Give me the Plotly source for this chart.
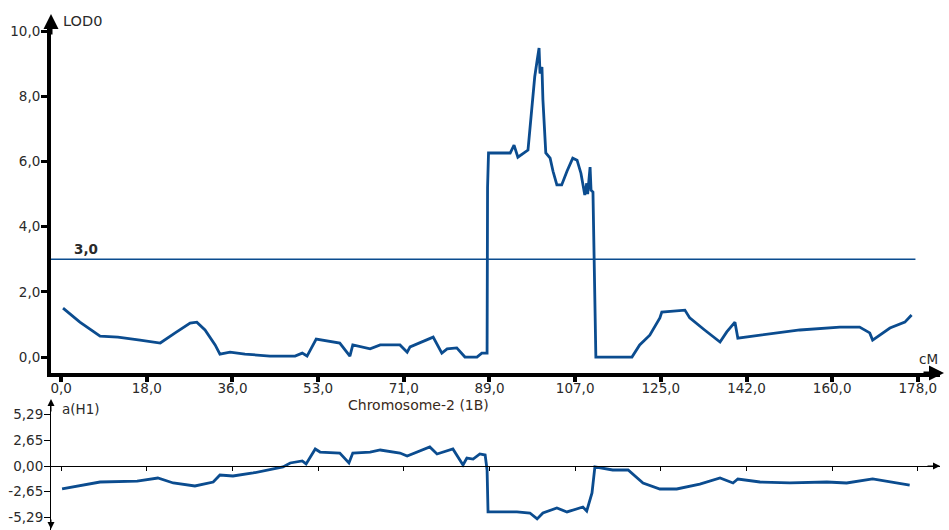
import plotly.graph_objects as go

# LOD profile along chromosome 2 (1B), positions in cM
lod_pos = [0.4, 3.9, 8.1, 11.8, 16.4, 20.6, 23.7, 26.8, 28.2, 29.9, 32.0, 33.0, 35.1,
           38.2, 43.4, 48.6, 50.1, 51.1, 53.0, 57.9, 60.0, 60.6, 64.2, 66.3, 70.4,
           71.9, 72.5, 77.3, 79.1, 80.2, 82.2, 83.9, 86.4, 87.4, 88.5, 88.6, 88.8,
           93.3, 94.1, 94.9, 97.0, 97.8, 98.4, 98.9, 99.3, 99.5, 99.9, 100.1, 100.7,
           101.6, 102.2, 103.0, 104.0, 105.1, 106.3, 107.2, 108.0, 108.8, 109.2,
           109.4, 109.9, 110.1, 110.5, 111.1, 118.6, 120.2, 122.3, 124.4, 124.8,
           129.6, 130.6, 133.7, 136.9, 138.3, 140.0, 140.6, 145.2, 153.5, 161.8,
           165.9, 168.0, 168.6, 172.2, 175.3, 176.7]
lod_val = [1.50, 1.07, 0.64, 0.61, 0.52, 0.43, 0.74, 1.04, 1.07, 0.83, 0.37, 0.09, 0.15,
           0.09, 0.03, 0.03, 0.12, 0.03, 0.55, 0.43, 0.03, 0.37, 0.25, 0.37, 0.37,
           0.15, 0.31, 0.61, 0.12, 0.25, 0.28, 0.00, 0.00, 0.12, 0.12, 5.20, 6.26,
           6.26, 6.50, 6.13, 6.35, 7.58, 8.60, 9.10, 9.48, 8.70, 8.90, 7.90, 6.26,
           6.10, 5.70, 5.28, 5.28, 5.70, 6.10, 6.04, 5.64, 4.97, 5.33,
           5.00, 5.83, 5.12, 5.06, 0.00, 0.00, 0.37, 0.67, 1.20, 1.38,
           1.44, 1.20, 0.83, 0.46, 0.77, 1.07, 0.58, 0.67, 0.83, 0.92,
           0.92, 0.74, 0.52, 0.89, 1.07, 1.29]

# additive effect a(H1)
eff_pos = [0.2, 8.1, 15.8, 20.1, 23.3, 27.8, 31.6, 33.0, 35.7, 39.9, 46.1, 47.6, 50.1,
           50.9, 52.8, 53.8, 57.9, 59.8, 60.6, 64.2, 66.3, 70.4, 71.9, 76.6, 78.1,
           81.4, 83.5, 84.3, 85.6, 87.0, 88.1, 88.5, 88.7, 94.7, 97.4, 98.9, 100.1,
           103.0, 105.1, 108.4, 109.2, 110.3, 110.9, 114.6, 117.8, 120.9, 124.4,
           127.9, 132.7, 136.9, 139.6, 140.6, 145.2, 151.4, 159.1, 163.2, 168.6,
           172.8, 176.3]
eff_val = [-2.37, -1.65, -1.55, -1.24, -1.75, -2.06, -1.65, -0.93, -1.03, -0.72, -0.10,
           0.31, 0.52, 0.21, 1.75, 1.44, 1.34, 0.31, 1.34, 1.44, 1.65, 1.34, 1.03,
           1.96, 1.24, 1.75, 0.10, 0.82, 0.72, 1.24, 1.13, -0.41, -4.74, -4.74, -4.85,
           -5.46, -4.85, -4.33, -4.74, -4.23, -4.64, -2.78, -0.10, -0.41, -0.41,
           -1.75, -2.37, -2.37, -1.86, -1.24, -1.75, -1.34, -1.65, -1.75, -1.65,
           -1.75, -1.34, -1.65, -1.96]

threshold = 3.0
threshold_label = "3,0"

x_tickvals = [0, 17.8, 35.6, 53.4, 71.2, 89.0, 106.8, 124.6, 142.4, 160.2, 178.0]
x_ticktext = ["0,0", "18,0", "36,0", "53,0", "71,0", "89,0", "107,0", "125,0",
              "142,0", "160,0", "178,0"]
lod_tickvals = [0, 2, 4, 6, 8, 10]
lod_ticktext = ["0,0", "2,0", "4,0", "6,0", "8,0", "10,0"]
eff_tickvals = [5.29, 2.65, 0.0, -2.65, -5.29]
eff_ticktext = ["5,29", "2,65", "0,00", "-2,65", "-5,29"]

W, H = 949, 530
BLUE = "#0b4c8f"
TXT = "#2a2a2a"
FONT = "DejaVu Sans, Verdana, sans-serif"
FS = 13.5

XR = [-2.1, 182.6]

def px(x):
    return x / W

def py(y):
    return (H - y) / H

fig = go.Figure()

fig.add_trace(go.Scatter(x=[XR[0], 177.5], y=[threshold, threshold], mode="lines",
                         line=dict(color=BLUE, width=1.6), xaxis="x", yaxis="y",
                         hoverinfo="skip"))
fig.add_trace(go.Scatter(x=lod_pos, y=lod_val, mode="lines",
                         line=dict(color=BLUE, width=2.8), xaxis="x", yaxis="y"))
fig.add_trace(go.Scatter(x=eff_pos, y=eff_val, mode="lines",
                         line=dict(color=BLUE, width=2.8), xaxis="x2", yaxis="y2"))

dom_x = [px(51), px(940)]
top_dom = [py(373), py(22)]
bot_dom = [0.0, py(402)]

tick_font = dict(size=FS, color=TXT, family=FONT)

fig.update_layout(
    width=W, height=H,
    margin=dict(l=0, r=0, t=0, b=0),
    paper_bgcolor="white", plot_bgcolor="white",
    showlegend=False,
    font=dict(family=FONT, size=FS, color=TXT),
    xaxis=dict(domain=dom_x, range=XR, anchor="y", showgrid=False, zeroline=False,
               showline=True, linewidth=4, linecolor="black",
               ticks="outside", ticklen=5, tickwidth=4, tickcolor="black",
               ticklabelstandoff=-5,
               tickvals=x_tickvals, ticktext=x_ticktext, tickfont=tick_font),
    yaxis=dict(domain=top_dom, range=[-0.49, 10.28], anchor="x", showgrid=False,
               zeroline=False, showline=True, linewidth=4, linecolor="black",
               ticks="outside", ticklen=6, tickwidth=3, tickcolor="black",
               ticklabelstandoff=-2,
               tickvals=lod_tickvals, ticktext=lod_ticktext, tickfont=tick_font),
    xaxis2=dict(domain=dom_x, range=XR, anchor="free", position=py(466),
                showgrid=False, zeroline=False, showline=True, linewidth=1,
                linecolor="black", ticks="outside", ticklen=4, tickwidth=1,
                tickcolor="black", tickvals=x_tickvals, showticklabels=False),
    yaxis2=dict(domain=bot_dom, range=[-6.6, 6.6], anchor="x2", showgrid=False,
                zeroline=False, showline=True, linewidth=1, linecolor="black",
                ticks="outside", ticklen=6, tickwidth=1, tickcolor="black",
                ticklabelstandoff=-2,
                tickvals=eff_tickvals, ticktext=eff_ticktext, tickfont=tick_font),
)

ann = []
# axis arrows
arrow_defs = [
    (px(51), py(14), 0, 22, 3),      # LOD axis top
    (px(944), py(373), -22, 0, 3),   # cM axis right
    (px(51), py(399), 0, 14, 1),     # effect axis top
    (px(51), py(532), 0, -14, 1),    # effect axis bottom
    (px(940), py(466), -14, 0, 1),   # zero line right
]
for ax_x, ax_y, dx, dy, w in arrow_defs:
    ann.append(dict(x=ax_x, y=ax_y, xref="paper", yref="paper", ax=dx, ay=dy,
                    axref="pixel", ayref="pixel", showarrow=True, arrowhead=2,
                    arrowsize=1.0 if w > 1 else 1.4, arrowwidth=w,
                    arrowcolor="black", text=""))

ann += [
    dict(x=px(61), y=py(21), xref="paper", yref="paper", text="LOD0",
         showarrow=False, xanchor="left", yanchor="middle",
         font=dict(size=14.5, color=TXT)),
    dict(x=px(60), y=py(409), xref="paper", yref="paper", text="a(H1)",
         showarrow=False, xanchor="left", yanchor="middle",
         font=dict(size=FS, color=TXT)),
    dict(x=px(928), y=py(359), xref="paper", yref="paper", text="cM",
         showarrow=False, xanchor="center", yanchor="middle",
         font=dict(size=FS, color=TXT)),
    dict(x=px(418), y=py(405), xref="paper", yref="paper", text="Chromosome-2 (1B)",
         showarrow=False, xanchor="center", yanchor="middle",
         font=dict(size=14, color="#3a2a1a")),
    dict(x=2.2, y=threshold, xref="x", yref="y", text="<b>" + threshold_label + "</b>",
         showarrow=False, xanchor="left", yanchor="bottom", yshift=0,
         font=dict(size=FS, color=TXT)),
]
fig.update_layout(annotations=ann)

fig.write_html("out.html")
